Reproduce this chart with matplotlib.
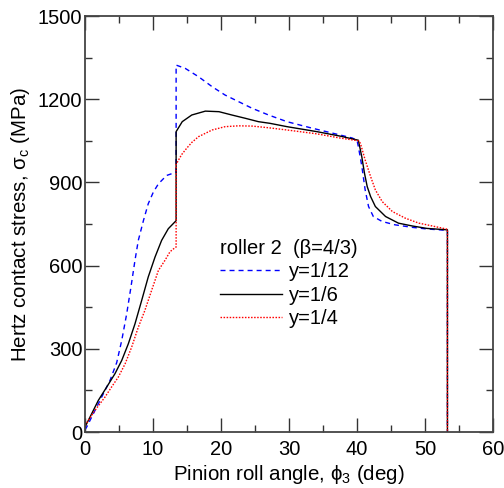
import numpy as np
import matplotlib
matplotlib.use("Agg")
import matplotlib.pyplot as plt
from matplotlib.ticker import MultipleLocator

plt.rcParams['font.family'] = ['Liberation Sans', 'DejaVu Sans']
plt.rcParams['mathtext.fontset'] = 'custom'
plt.rcParams['mathtext.rm'] = 'Liberation Sans'
plt.rcParams['mathtext.it'] = 'Liberation Sans:italic'

# roll angle (deg) / contact stress (MPa) for each load-sharing case
x_y12 = [0, 0.25, 0.74, 1.72, 2.7, 3.68, 4.66, 5.4, 6.13, 6.76, 7.35, 7.84, 8.6, 9.3, 10.05,
         10.8, 12.0, 13.3, 13.4,
         13.4, 14.75, 16.7, 18.7, 20.6, 22.6, 24.6, 27.0, 29.7, 33.0, 35.0, 37.5, 39.3, 40.0,
         40.2, 40.7, 41.2, 41.7, 42.4, 43.7, 45.6, 48.1, 50.3, 53.3, 53.3]
s_y12 = [8, 18, 42, 90, 138, 186, 250, 330, 426, 523, 619, 691, 763, 823, 865,
         895, 925, 936, 937,
         1323, 1311, 1281, 1245, 1215, 1191, 1167, 1143, 1119, 1098, 1086, 1071, 1060, 1052,
         1029, 960, 873, 813, 777, 759, 747, 738, 732, 727, 0]

x_y6 = [0, 0.74, 1.96, 3.19, 4.4, 5.4, 6.37, 7.35, 8.33, 9.3, 10.3, 11.27, 12.25, 13.2, 13.4,
        13.4, 14.3, 15.7, 17.7, 19.7, 21.6, 23.6, 25.5, 27.2, 29.7, 34.1, 37.5, 40.2,
        40.7, 41.1, 41.5, 42.0, 42.7, 44.2, 46.1, 48.1, 50.3, 53.3, 53.3]
s_y6 = [18, 54, 114, 162, 210, 258, 318, 390, 474, 559, 631, 691, 733, 757, 762,
        1083, 1119, 1143, 1157, 1155, 1143, 1131, 1119, 1113, 1101, 1083, 1067, 1052,
        993, 933, 885, 849, 813, 777, 753, 743, 734, 729, 0]

x_y4 = [0, 0.5, 1.47, 2.94, 3.9, 4.9, 5.9, 6.86, 7.84, 8.8, 9.8, 10.8, 11.76, 12.5, 13.0, 13.4,
        13.4, 14.2, 14.95, 15.7, 16.7, 18.7, 20.6, 22.6, 24.6, 27.0, 29.7, 34.1, 37.5, 40.2,
        40.5, 41.2, 42.0, 42.7, 43.7, 45.2, 47.1, 49.1, 50.3, 53.3, 53.3]
s_y4 = [24, 42, 78, 126, 162, 198, 246, 306, 378, 438, 511, 583, 619, 650, 660, 667,
        965, 1000, 1023, 1044, 1065, 1089, 1101, 1104, 1103, 1097, 1089, 1075, 1060, 1050,
        1041, 981, 921, 873, 831, 795, 771, 753, 747, 731, 0]

fig = plt.figure(figsize=(5.04, 4.88), dpi=100)
ax = fig.add_axes([85/504, 56/488, 408/504, 416/488])

ax.plot(x_y12, s_y12, color='#0000ff', lw=1, linestyle=(0, (3.6, 2.9)), label='y=1/12')
ax.plot(x_y6, s_y6, color='black', lw=1, label='y=1/6')
ax.plot(x_y4, s_y4, color='#ff0000', lw=1, linestyle=(0, (1.1, 1.1)), label='y=1/4')

ax.set_xlim(0, 60)
ax.set_ylim(0, 1500)
ax.xaxis.set_major_locator(MultipleLocator(10))
ax.xaxis.set_minor_locator(MultipleLocator(5))
ax.yaxis.set_major_locator(MultipleLocator(300))
ax.yaxis.set_minor_locator(MultipleLocator(150))
ax.tick_params(which='both', direction='in', top=True, right=True, width=1, color='#333333')
ax.tick_params(which='major', length=10)
ax.tick_params(which='minor', length=5)
ax.tick_params(axis='x', labelsize=14.5, pad=6)
ax.tick_params(axis='y', labelsize=14.5, pad=2)
for sp in ax.spines.values():
    sp.set_linewidth(1.3)
    sp.set_color('#444444')

ax.set_xlabel('Pinion roll angle, \u03d5$_3$ (deg)', fontsize=14.8, labelpad=3)
ax.set_ylabel('Hertz contact stress, \u03c3$_{\\rm c}$ (MPa)', fontsize=14.8, labelpad=4)

leg = ax.legend(title='roller 2  (\u03b2=4/3)', loc='upper left',
                bbox_to_anchor=(0.331, 0.464), frameon=False, fontsize=14.5,
                title_fontsize=14.5, alignment='left', borderpad=0, borderaxespad=0,
                handlelength=3.1, handletextpad=0.3, labelspacing=0.22)

fig.savefig('out.png', dpi=100)
